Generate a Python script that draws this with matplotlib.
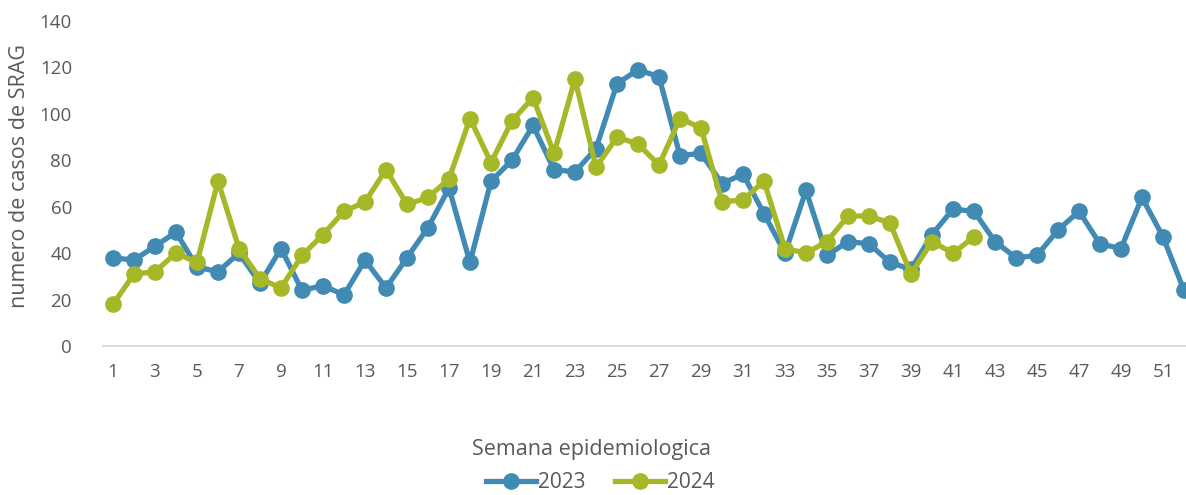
import numpy as np
import matplotlib.pyplot as plt

plt.rcParams['font.family'] = ['Open Sans', 'DejaVu Sans']

# semanas epidemiologicas
semanas_2023 = list(range(1, 53))
casos_2023 = [38, 37, 43, 49, 34, 32, 40, 27, 42, 24, 26, 22, 37, 25, 38, 51, 68, 36,
              71, 80, 95, 76, 75, 85, 113, 119, 116, 82, 83, 70, 74, 57, 40, 67, 39,
              45, 44, 36, 33, 48, 59, 58, 45, 38, 39, 50, 58, 44, 42, 64, 47, 24]
semanas_2024 = list(range(1, 43))
casos_2024 = [18, 31, 32, 40, 36, 71, 42, 29, 25, 39, 48, 58, 62, 76, 61, 64, 72, 98,
              79, 97, 107, 83, 115, 77, 90, 87, 78, 98, 94, 62, 63, 71, 42, 40, 45,
              56, 56, 53, 31, 45, 40, 47]
etiquetas_x = [str(s) for s in range(1, 53, 2)]

azul = '#418AB3'
verde = '#A6B727'
gris = '#595959'

fig = plt.figure(figsize=(11.86, 4.95), dpi=100)
# el grafico original esta cortado a la derecha
ax = fig.add_axes([102.5 / 1186, 149 / 495, 1092 / 1186, 325 / 495])

ax.plot(semanas_2023, casos_2023, color=azul, lw=3.8, marker='o', ms=11,
        label='2023', solid_joinstyle='round')
ax.plot(semanas_2024, casos_2024, color=verde, lw=3.8, marker='o', ms=11,
        label='2024', solid_joinstyle='round')

ax.set_xlim(0.5, 52.5)
ax.set_ylim(0, 140)
ax.set_yticks(range(0, 141, 20))
ax.set_xticks(range(1, 53, 2))
ax.set_xticklabels(etiquetas_x)
ax.tick_params(axis='both', length=0, labelsize=13.5, colors=gris)
ax.tick_params(axis='x', pad=12)
ax.tick_params(axis='y', pad=22)

for lado in ['top', 'right', 'left']:
    ax.spines[lado].set_visible(False)
ax.spines['bottom'].set_color('#D9D9D9')
ax.spines['bottom'].set_linewidth(1.5)

fig.text(20 / 1186, 1 - 176 / 495, 'numero de casos de SRAG', rotation=90,
         ha='center', va='center', fontsize=15.5, color=gris)
fig.text(592 / 1186, 1 - 449 / 495, 'Semana epidemiologica',
         ha='center', va='center', fontsize=15.5, color=gris)

fig.legend(loc='center', bbox_to_anchor=(600 / 1186, 1 - 483 / 495), ncol=2,
           frameon=False, fontsize=15, labelcolor=gris, handlelength=2.4,
           handletextpad=0.1, columnspacing=1.4, borderaxespad=0)

fig.savefig('out.png', dpi=100)
